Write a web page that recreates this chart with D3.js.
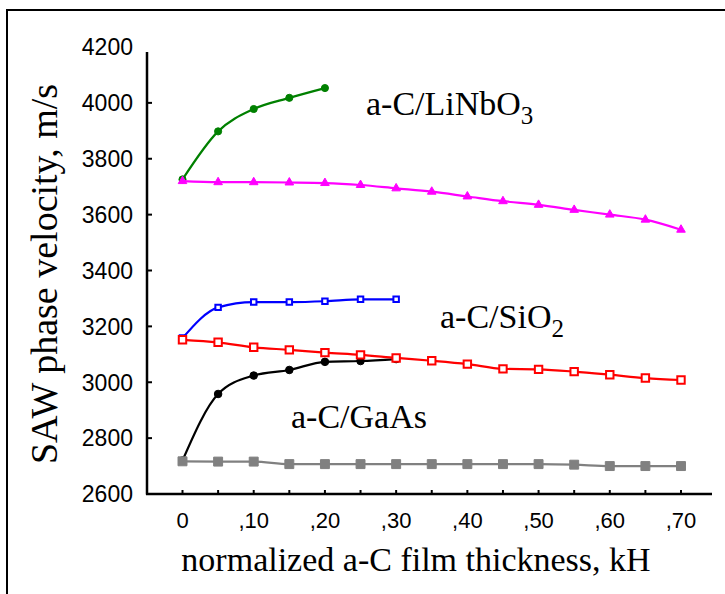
<!DOCTYPE html>
<html><head><meta charset="utf-8">
<script src="https://cdn.jsdelivr.net/npm/d3@7"></script>
<style>html,body{margin:0;padding:0;background:#fff;}svg{display:block;}</style>
</head><body>
<script>
// ---- data ----
const xsFull = [0,0.05,0.10,0.15,0.20,0.25,0.30,0.35,0.40,0.45,0.50,0.55,0.60,0.65,0.70];
const liNbO3 = [3726,3898,3978,4018,4053];
const liNbO3Sub = [3720,3716,3716,3715,3713,3706,3694,3682,3665,3648,3635,3617,3600,3582,3546];
const siO2 = [3158,3268,3287,3287,3290,3297,3297];
const siO2Sub = [3152,3143,3125,3116,3106,3098,3087,3077,3065,3048,3046,3038,3027,3015,3008];
const gaAs = [2720,2958,3024,3044,3073,3076,3083];
const gaAsSub = [2717,2716,2716,2707,2707,2707,2707,2707,2707,2707,2707,2705,2700,2700,2700];
const yTicks = [2600,2800,3000,3200,3400,3600,3800,4000,4200];
const xTickLabels = ["0",",10",",20",",30",",40",",50",",60",",70"];

const W=725,H=594;
const svg=d3.select("body").append("svg").attr("width",W).attr("height",H);
svg.append("rect").attr("x",7).attr("y",10).attr("width",W+20).attr("height",H+20)
  .attr("fill","#fff").attr("stroke","#000").attr("stroke-width",2);

const x=d3.scaleLinear().domain([0,0.70]).range([182.5,681]);
const y=d3.scaleLinear().domain([2600,4200]).range([494,47]);

// axes lines
svg.append("line").attr("x1",147).attr("x2",147).attr("y1",52).attr("y2",494.5).attr("stroke","#000").attr("stroke-width",2.5);
svg.append("line").attr("x1",146).attr("x2",712).attr("y1",494).attr("y2",494).attr("stroke","#000").attr("stroke-width",2.5);

// y ticks
const yt=svg.append("g");
yt.selectAll("line").data(yTicks.filter(d=>d>2600&&d<4200)).join("line")
  .attr("x1",147).attr("x2",152).attr("y1",d=>y(d)).attr("y2",d=>y(d)).attr("stroke","#000").attr("stroke-width",2);
yt.selectAll("text").data(yTicks).join("text")
  .attr("x",133).attr("y",d=>y(d)).attr("dy","0.36em").attr("text-anchor","end")
  .attr("font-family","Liberation Sans, Arial, sans-serif").attr("font-size",23).text(d=>d);

// x ticks
const xt=svg.append("g");
xt.selectAll("line").data(xsFull).join("line")
  .attr("x1",d=>x(d)).attr("x2",d=>x(d)).attr("y1",494).attr("y2",490).attr("stroke","#000").attr("stroke-width",2);
xt.selectAll("text").data(xTickLabels).join("text")
  .attr("x",(d,i)=>x(i*0.1)).attr("y",520).attr("dy","0.36em").attr("text-anchor","middle")
  .attr("font-family","Liberation Sans, Arial, sans-serif").attr("font-size",22).text(d=>d);

// titles
svg.append("text").attr("x",416).attr("y",571).attr("text-anchor","middle")
  .attr("font-family","Liberation Serif, Times New Roman, serif").attr("font-size",34)
  .text("normalized a-C film thickness, kH");
svg.append("text").attr("transform","translate(57,274) rotate(-90)").attr("text-anchor","middle")
  .attr("font-family","Liberation Serif, Times New Roman, serif").attr("font-size",38)
  .text("SAW phase velocity, m/s");

// series
const line=d3.line().curve(d3.curveMonotoneX).x(d=>x(d[0])).y(d=>y(d[1]));
function series(vals,color,shape,size,filled){
  const pts=vals.map((v,i)=>[xsFull[i],v]);
  const g=svg.append("g");
  g.append("path").attr("d",line(pts)).attr("fill","none").attr("stroke",color).attr("stroke-width",2.2);
  const sym=d3.symbol().type(shape).size(size);
  g.selectAll("path.m").data(pts).join("path").attr("class","m")
    .attr("transform",d=>`translate(${x(d[0])},${y(d[1])})`).attr("d",sym)
    .attr("fill",filled?color:"#fff").attr("stroke",color).attr("stroke-width",filled?1:2);
}
series(liNbO3,"#008000",d3.symbolCircle,40,true);
series(siO2,"#0000ff",d3.symbolSquare,30,false);
series(gaAs,"#000000",d3.symbolCircle,45,true);
series(gaAsSub,"#808080",d3.symbolSquare,80,true);
series(siO2Sub,"#ff0000",d3.symbolSquare,55,false);
series(liNbO3Sub,"#ff00ff",d3.symbolTriangle,32,true);

// labels
function label(xp,yp,main,sub){
  const t=svg.append("text").attr("x",xp).attr("y",yp)
    .attr("font-family","Liberation Serif, Times New Roman, serif").attr("font-size",34);
  t.append("tspan").text(main);
  if(sub){t.append("tspan").attr("dy",9).attr("font-size",25).text(sub);}
}
label(366,115,"a-C/LiNbO","3");
label(440,328,"a-C/SiO","2");
label(291,428,"a-C/GaAs",null);
</script>
</body></html>
